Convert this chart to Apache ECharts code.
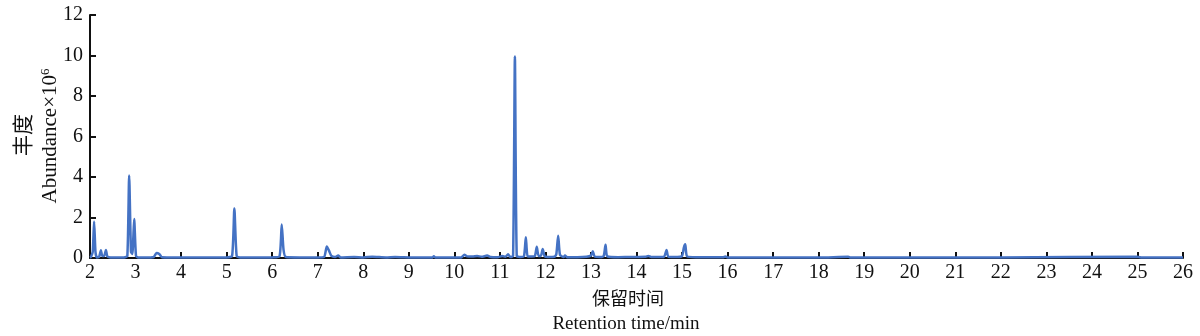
<!DOCTYPE html>
<html><head><meta charset="utf-8">
<script src="https://cdn.jsdelivr.net/npm/echarts@6/dist/echarts.min.js"></script>
<style>html,body{margin:0;padding:0;background:#fff}#c{width:1200px;height:336px}</style>
</head><body><div id="c"></div>
<script>
// Retention time (min)
const times = [2.00,2.02,2.06,2.09,2.12,2.15,2.20,2.24,2.27,2.31,2.35,2.38,2.45,2.60,2.75,2.82,2.86,2.90,2.93,2.97,3.01,3.06,3.20,3.40,3.46,3.52,3.58,3.80,4.20,4.60,5.00,5.12,5.17,5.22,5.30,5.60,6.00,6.16,6.21,6.25,6.30,6.60,7.00,7.14,7.20,7.25,7.30,7.38,7.45,7.50,7.80,8.00,8.20,8.50,8.70,9.00,9.30,9.52,9.55,9.58,9.90,10.15,10.22,10.28,10.40,10.50,10.60,10.72,10.80,10.95,11.05,11.12,11.18,11.23,11.29,11.33,11.37,11.45,11.53,11.57,11.61,11.70,11.77,11.81,11.85,11.90,11.94,11.98,12.05,12.20,12.24,12.28,12.32,12.40,12.43,12.48,12.70,12.90,13.00,13.04,13.08,13.20,13.28,13.32,13.36,13.60,13.90,14.20,14.26,14.32,14.60,14.66,14.70,14.90,15.00,15.04,15.07,15.11,15.30,15.90,15.95,16.00,17.00,18.00,18.65,18.70,19.50,21.00,22.00,25.00,25.10,26.00];
// Abundance (x10^6)
const abundance = [0.02,0.05,0.30,1.80,0.30,0.03,0.05,0.38,0.10,0.10,0.40,0.08,0.03,0.02,0.03,0.10,4.08,0.30,0.20,1.92,0.10,0.03,0.02,0.05,0.25,0.20,0.04,0.03,0.02,0.03,0.03,0.10,2.45,0.10,0.03,0.02,0.03,0.08,1.65,0.40,0.05,0.03,0.03,0.05,0.57,0.35,0.10,0.05,0.12,0.03,0.05,0.03,0.06,0.03,0.05,0.03,0.02,0.03,0.09,0.03,0.02,0.03,0.16,0.08,0.07,0.10,0.06,0.12,0.05,0.04,0.10,0.06,0.18,0.05,0.10,9.95,0.10,0.05,0.10,1.02,0.08,0.07,0.10,0.55,0.10,0.10,0.44,0.10,0.05,0.06,0.20,1.10,0.15,0.05,0.12,0.04,0.04,0.06,0.12,0.33,0.08,0.05,0.10,0.65,0.08,0.04,0.05,0.06,0.10,0.05,0.05,0.40,0.06,0.05,0.10,0.52,0.68,0.08,0.04,0.04,0.08,0.03,0.02,0.02,0.06,0.02,0.02,0.02,0.03,0.06,0.02,0.02];
const xName = ['保留时间','Retention time/min'];
const yName = ['丰度','Abundance×10'];

const chart = echarts.init(document.getElementById('c'), null, {renderer:'canvas'});
const serif = '"Liberation Serif","Times New Roman",serif';
const cjk = '"Noto Sans CJK SC",sans-serif';
const axisLine = {show:true, lineStyle:{color:'#111', width:2}};
chart.setOption({
  animation:false,
  backgroundColor:'#fff',
  grid:{left:90, right:17, top:15, bottom:78, containLabel:false},
  xAxis:{type:'value', min:2, max:26, interval:1,
    axisLine:axisLine, axisTick:{show:true, inside:true, length:6, lineStyle:{color:'#111', width:2}},
    axisLabel:{color:'#111', fontFamily:serif, fontSize:20, margin:5},
    splitLine:{show:false}},
  yAxis:{type:'value', min:0, max:12, interval:2,
    axisLine:axisLine, axisTick:{show:true, inside:true, length:6, lineStyle:{color:'#111', width:2}},
    axisLabel:{color:'#111', fontFamily:serif, fontSize:20, margin:7},
    splitLine:{show:false}},
  series:[{type:'line', data:times.map((t,i)=>[t, abundance[i]]), showSymbol:false,
    smooth:0.2, lineStyle:{color:'#4472C4', width:2.5}, z:1}],
  graphic:[
    {type:'text', x:628, y:298, style:{text:xName[0], font:'18px '+cjk, fill:'#111', align:'center', verticalAlign:'middle'}},
    {type:'text', x:626, y:324, style:{text:xName[1], font:'19px '+serif, fill:'#111', align:'center', verticalAlign:'middle'}},
    {type:'text', x:22, y:135, rotation:Math.PI/2, style:{text:yName[0], font:'21px '+cjk, fill:'#111', align:'center', verticalAlign:'middle'}},
    {type:'text', x:50, y:136, rotation:Math.PI/2, style:{text:yName[1]+'{s|6}', font:'21px '+serif, fill:'#111', align:'center', verticalAlign:'middle',
      rich:{s:{fontFamily:serif, fontSize:13, verticalAlign:'top', padding:[0,0,8,0], fill:'#111'}}}}
  ]
});
</script></body></html>
